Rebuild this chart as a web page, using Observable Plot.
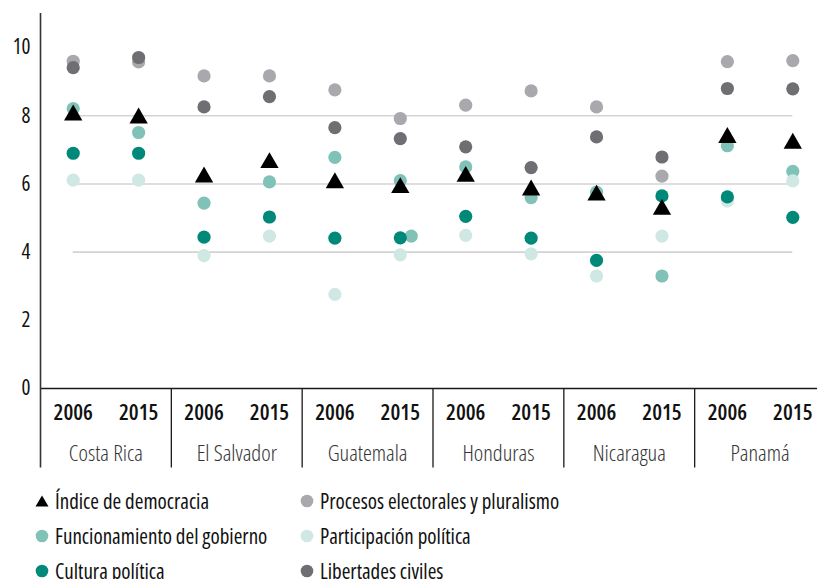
<!DOCTYPE html>
<html><head><meta charset="utf-8">
<script src="https://cdn.jsdelivr.net/npm/d3@7"></script>
<script src="https://cdn.jsdelivr.net/npm/@observablehq/plot@0.6"></script>
<style>
body{margin:0;background:#fff;font-family:"Open Sans",sans-serif;font-stretch:75%;}
svg text{font-stretch:75%;}
#legend{display:grid;grid-template-columns:265px 320px;margin-left:35px;margin-top:7px;}
.item{height:35px;display:flex;align-items:center;font-size:21px;font-weight:500;color:#111;white-space:nowrap}
.item svg{margin-right:6px;flex:none}
</style></head><body>
<div id="chart"></div><div id="legend"></div>
<script>
const countries = ["Costa Rica","El Salvador","Guatemala","Honduras","Nicaragua","Panamá"];
const years = ["2006","2015"];
const seriesNames = ["Índice de democracia","Procesos electorales y pluralismo","Funcionamiento del gobierno","Participación política","Cultura política","Libertades civiles"];
const seriesColors = ["#000000","#a8a8ad","#80c2b8","#cfe8e4","#008878","#6e6e73"];
// values in order: country × year (2006, 2015)
const indice         = [8.02,7.93, 6.20,6.62, 6.03,5.89, 6.22,5.82, 5.67,5.25, 7.36,7.19];
const procesos       = [9.60,9.58, 9.17,9.17, 8.76,7.92, 8.31,8.73, 8.26,6.23, 9.59,9.62];
const funcionamiento = [8.21,7.51, 5.44,6.06, 6.78,6.10, 6.50,5.60, 5.76,3.30, 7.12,6.37];
const participacion  = [6.11,6.11, 3.90,4.47, 2.76,3.92, 4.49,3.95, 3.30,4.47, 5.50,6.09];
const cultura        = [6.90,6.90, 4.44,5.03, 4.41,4.42, 5.05,4.41, 3.76,5.65, 5.62,5.02];
const libertades     = [9.41,9.71, 8.26,8.56, 7.65,7.33, 7.09,6.48, 7.38,6.79, 8.80,8.79];
// stray "Funcionamiento" dot drawn next to Guatemala 2015 in the original
const extraFuncionamiento = [{country:"Guatemala", year:"2015", value:4.47}];
const gridValues = [4,6,8];
const yTicks = [0,2,4,6,8,10];

const seriesValues = [indice, procesos, funcionamiento, participacion, cultura, libertades];
const idx = (c, y) => countries.indexOf(c) * 2 + years.indexOf(y);
const rows = [];
seriesNames.forEach((s, si) => {
  countries.forEach((c, ci) => years.forEach((y, yi) => {
    rows.push({series: s, country: c, year: y, x: ci * 2 + yi, value: seriesValues[si][ci * 2 + yi]});
  }));
});
const yearRows = countries.flatMap((c) => years.map((y) => ({country: c, year: y, x: idx(c, y)})));
const countryRows = countries.map((c) => ({country: c, x: idx(c, "2006") + 0.5}));
const separators = countries.map((c) => idx(c, "2006") - 0.5);
const font = '"Open Sans",sans-serif';

const dotOrder = [1, 2, 3, 4, 5];
const dotMarks = [];
dotOrder.forEach((si) => {
  if (si === 3) {
    dotMarks.push(Plot.dot(extraFuncionamiento, {x: (d) => idx(d.country, d.year), y: "value", r: 6.6, fill: seriesColors[2], dx: 11}));
  }
  dotMarks.push(Plot.dot(rows.filter((d) => d.series === seriesNames[si]), {x: "x", y: "value", r: 6.6, fill: seriesColors[si]}));
});

const plot = Plot.plot({
  width: 817, height: 476,
  marginLeft: 40, marginRight: -8, marginTop: 13, marginBottom: 88,
  x: {domain: [-0.5, 11.5], axis: null},
  y: {domain: [0, 11], axis: null},
  style: {fontFamily: font, background: "#fff", overflow: "visible"},
  marks: [
    Plot.ruleY(gridValues, {x1: 0, x2: 11, stroke: "#d3d3d3", strokeWidth: 1.6}),
    Plot.axisY({ticks: yTicks, tickSize: 0, tickPadding: 10, fontSize: 21, fontWeight: 500, fill: "#111", anchor: "left", label: null}),
    Plot.ruleY([0], {x1: -0.5, x2: 11.5, stroke: "#1a1a1a", strokeWidth: 1.6}),
    Plot.ruleX(separators.slice(1), {y1: -2.33, y2: 0, stroke: "#1a1a1a", strokeWidth: 1.3}),
    Plot.ruleX([separators[0]], {y1: -2.33, y2: 11, stroke: "#333", strokeWidth: 1.6}),
    Plot.text(yearRows, {x: "x", y: -0.73, text: "year", fontSize: 22, fontWeight: 600, fill: "#111"}),
    Plot.text(countryRows, {x: "x", y: -1.91, text: "country", fontSize: 22.5, fontWeight: 300, fill: "#333"}),
    ...dotMarks,
    Plot.dot(rows.filter((d) => d.series === seriesNames[0]), {x: "x", y: "value", symbol: "triangle", r: 6.8, fill: "#000"})
  ]
});
document.getElementById("chart").appendChild(plot);

// legend
const legendOrder = [0, 1, 2, 3, 4, 5];
const legend = d3.select("#legend");
legendOrder.forEach((si) => {
  const item = legend.append("div").attr("class", "item");
  const svg = item.append("svg").attr("width", 14).attr("height", 14);
  if (si === 0) svg.append("path").attr("d", "M7,1.5L13.5,12.5L0.5,12.5Z").attr("fill", "#000");
  else svg.append("circle").attr("cx", 7).attr("cy", 7).attr("r", 6.3).attr("fill", seriesColors[si]);
  item.append("span").text(seriesNames[si]);
});
</script>
</body></html>
